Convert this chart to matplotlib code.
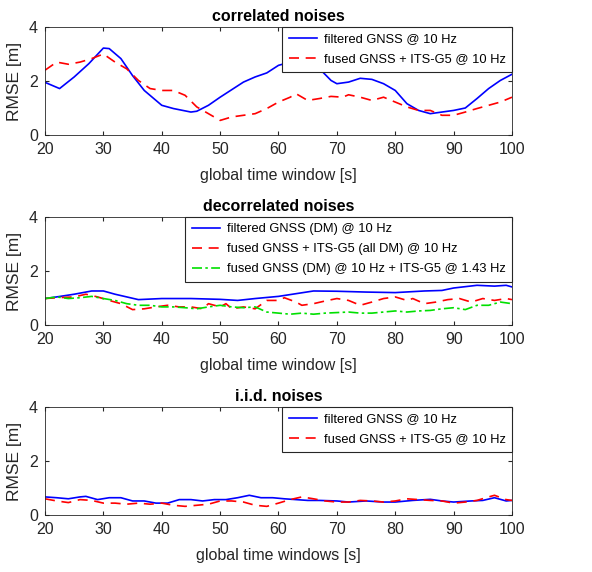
import numpy as np
import matplotlib.pyplot as plt

plt.rcParams['font.family'] = ['Liberation Sans', 'DejaVu Sans']

# correlated noises
t1_blue = [20, 22.5, 25, 27.5, 30, 31, 33, 35, 37, 40, 42, 45, 46, 48, 50, 52, 54, 56, 58, 60,
           62, 64, 67, 69, 70, 72, 74, 76, 78, 80, 82, 84, 86, 88, 90, 92, 94, 96, 98, 100]
v1_blue = [1.95, 1.72, 2.15, 2.64, 3.22, 3.2, 2.83, 2.2, 1.65, 1.1, 0.98, 0.85, 0.88, 1.1, 1.4,
           1.68, 1.96, 2.15, 2.3, 2.58, 2.7, 2.75, 2.46, 2.02, 1.9, 1.96, 2.1, 2.06, 1.9, 1.65,
           1.16, 0.91, 0.79, 0.85, 0.91, 1.0, 1.35, 1.72, 2.02, 2.25]
t1_red = [20, 22, 24, 26, 28, 30, 32, 34, 36, 38, 40, 42, 44, 46, 48, 50, 52, 54, 56, 58, 60,
          62, 63, 65, 67, 69, 71, 72, 74, 76, 78, 80, 82, 84, 86, 88, 90, 92, 94, 96, 98, 100]
v1_red = [2.4, 2.7, 2.62, 2.7, 2.83, 3.0, 2.7, 2.45, 2.02, 1.72, 1.65, 1.65, 1.47, 1.04, 0.79,
          0.54, 0.67, 0.73, 0.79, 0.98, 1.22, 1.4, 1.53, 1.28, 1.35, 1.43, 1.4, 1.49, 1.4, 1.28,
          1.4, 1.22, 1.04, 0.91, 0.91, 0.73, 0.73, 0.85, 0.98, 1.1, 1.22, 1.4]

# decorrelated noises
t2_blue = [20, 22, 25, 28, 30, 32, 34, 36, 40, 45, 50, 53, 56, 60, 63, 66, 70, 75, 80, 85, 88,
           90, 94, 97, 99, 100]
v2_blue = [0.98, 1.04, 1.14, 1.26, 1.26, 1.14, 1.04, 0.94, 0.98, 0.98, 0.95, 0.91, 0.98, 1.06,
           1.16, 1.26, 1.25, 1.22, 1.2, 1.26, 1.28, 1.37, 1.47, 1.44, 1.47, 1.41]
t2_red = [20, 22, 25, 27, 29, 31, 33, 35, 37, 39, 41, 43, 45, 47, 48, 50, 51, 52, 54, 56, 58,
          60, 61, 63, 64, 66, 68, 70, 72, 74, 76, 78, 80, 82, 83, 85, 87, 89, 91, 93, 95, 97,
          99, 100]
v2_red = [0.98, 1.01, 1.04, 1.14, 1.04, 0.91, 0.79, 0.57, 0.6, 0.67, 0.73, 0.67, 0.67, 0.6,
          0.79, 0.67, 0.79, 0.6, 0.67, 0.6, 0.91, 0.91, 1.01, 0.85, 0.73, 0.79, 0.89, 0.98,
          0.91, 0.73, 0.85, 0.98, 1.04, 0.91, 0.98, 0.79, 0.85, 0.94, 0.98, 0.85, 0.98, 0.91,
          0.98, 0.94]
t2_green = list(range(20, 101, 2))
v2_green = [0.98, 1.04, 0.98, 1.01, 1.06, 0.98, 0.91, 0.79, 0.73, 0.73, 0.67, 0.67, 0.64, 0.6,
            0.67, 0.73, 0.67, 0.64, 0.67, 0.48, 0.44, 0.4, 0.44, 0.4, 0.44, 0.46, 0.48, 0.44,
            0.44, 0.48, 0.52, 0.48, 0.52, 0.54, 0.6, 0.64, 0.57, 0.73, 0.73, 0.85, 0.79]

# i.i.d. noises
t3_blue = [20, 22, 24, 26, 27, 29, 31, 33, 35, 37, 39, 41, 43, 45, 47, 49, 51, 53, 55, 57, 59,
           61, 63, 65, 67, 70, 72, 75, 78, 80, 83, 86, 88, 90, 93, 95, 97, 99, 100]
v3_blue = [0.67, 0.64, 0.6, 0.67, 0.69, 0.57, 0.64, 0.64, 0.52, 0.52, 0.44, 0.44, 0.57, 0.57,
           0.52, 0.57, 0.57, 0.64, 0.73, 0.64, 0.64, 0.6, 0.57, 0.54, 0.54, 0.52, 0.48, 0.52,
           0.48, 0.48, 0.54, 0.58, 0.52, 0.48, 0.52, 0.54, 0.64, 0.52, 0.54]
t3_red = list(range(20, 97, 2)) + [97, 99, 100]
v3_red = [0.6, 0.52, 0.46, 0.57, 0.54, 0.44, 0.44, 0.4, 0.44, 0.4, 0.44, 0.36, 0.32, 0.36,
          0.4, 0.52, 0.52, 0.48, 0.36, 0.32, 0.44, 0.57, 0.67, 0.6, 0.52, 0.48, 0.48, 0.54,
          0.52, 0.48, 0.52, 0.6, 0.57, 0.54, 0.52, 0.44, 0.48, 0.54, 0.67, 0.73, 0.57, 0.54]

titles = ['correlated noises', 'decorrelated noises', 'i.i.d. noises']
xlabels = ['global time window [s]', 'global time window [s]', 'global time windows [s]']
lab_blue = ['filtered GNSS @ 10 Hz', 'filtered GNSS (DM) @ 10 Hz', 'filtered GNSS @ 10 Hz']
lab_red = ['fused GNSS + ITS-G5 @ 10 Hz', 'fused GNSS + ITS-G5 (all DM) @ 10 Hz',
           'fused GNSS + ITS-G5 @ 10 Hz']
lab_green = 'fused GNSS (DM) @ 10 Hz + ITS-G5 @ 1.43 Hz'

W, H = 592, 572
fig = plt.figure(figsize=(W / 100, H / 100), dpi=100)
tops = [27, 217, 407]
axes = []
for top in tops:
    ax = fig.add_axes([45 / W, 1 - (top + 108) / H, 467 / W, 108 / H])
    axes.append(ax)

series = [
    [(t1_blue, v1_blue, 'b', '-'), (t1_red, v1_red, 'r', (0, (6, 4)))],
    [(t2_blue, v2_blue, 'b', '-'), (t2_red, v2_red, 'r', (0, (6, 4))),
     (t2_green, v2_green, '#00e000', (0, (6, 2, 1.5, 2)))],
    [(t3_blue, v3_blue, 'b', '-'), (t3_red, v3_red, 'r', (0, (6, 4)))],
]
labels = [[lab_blue[0], lab_red[0]], [lab_blue[1], lab_red[1], lab_green],
          [lab_blue[2], lab_red[2]]]

for i, ax in enumerate(axes):
    for (t, v, c, ls), lab in zip(series[i], labels[i]):
        ax.plot(t, v, color=c, linestyle=ls, linewidth=1.2, label=lab)
    ax.set_xlim(20, 100)
    ax.set_ylim(0, 4)
    ax.set_xticks(range(20, 101, 10))
    ax.set_yticks([0, 2, 4])
    ax.tick_params(direction='in', top=True, right=True, labelsize=11.5,
                   colors='#262626', length=3, pad=5)
    for s in ax.spines.values():
        s.set_color('#262626')
        s.set_linewidth(0.6)
    ax.set_title(titles[i], fontsize=11.5, fontweight='bold', pad=4)
    ax.set_xlabel(xlabels[i], fontsize=11.5, color='#262626', labelpad=8)
    ax.set_ylabel('RMSE [m]', fontsize=12.5, color='#262626', labelpad=5)
    leg = ax.legend(loc='upper right', fontsize=9.3, frameon=True, fancybox=False,
                    borderaxespad=0, handlelength=2.2, borderpad=0.5,
                    labelspacing=0.6, handletextpad=0.5)
    leg.get_frame().set_edgecolor('#262626')
    leg.get_frame().set_linewidth(0.8)
    leg.get_frame().set_alpha(1)

fig.savefig('out.png', dpi=100)
